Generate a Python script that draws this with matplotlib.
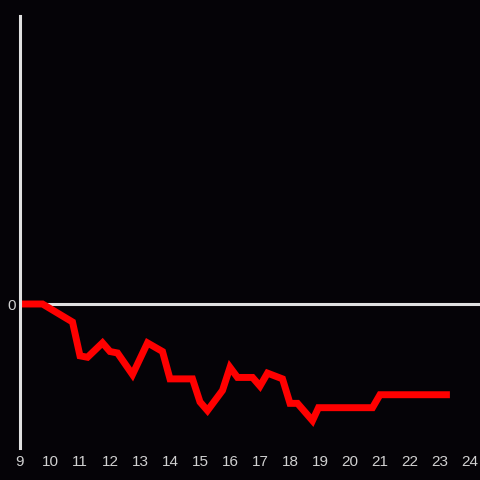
import matplotlib
matplotlib.use("Agg")
import matplotlib.pyplot as plt

# hours of the day and value (relative, zero = start level)
hours = [9.0, 9.75, 10.75, 11.0, 11.25, 11.75, 12.0, 12.25, 12.75, 13.25, 13.75,
         14.0, 14.75, 15.0, 15.25, 15.75, 16.0, 16.25, 16.75, 17.0, 17.25, 17.75,
         18.0, 18.25, 18.75, 18.95, 20.75, 21.0, 23.33]
values = [0.0, 0.0, -0.125, -0.36, -0.37, -0.27, -0.33, -0.34, -0.49, -0.27, -0.33,
          -0.52, -0.52, -0.68, -0.74, -0.60, -0.44, -0.51, -0.51, -0.57, -0.48, -0.52,
          -0.69, -0.69, -0.81, -0.72, -0.72, -0.63, -0.63]
xticks = list(range(9, 25))

bg = '#050307'
fig = plt.figure(figsize=(4.8, 4.8), dpi=100, facecolor=bg)
ax = fig.add_axes([20/480, 32/480, 460/480, 432/480], facecolor=bg)

ax.axhline(0, color='#e0e0e0', lw=2.2, zorder=1)
ax.plot(hours, values, color='#ff0000', lw=5.0, solid_joinstyle='miter',
        solid_capstyle='butt', zorder=2)

ax.set_xlim(9, 9 + 460/30)
ax.set_ylim(-1, 2)
ax.set_xticks(xticks)
ax.set_yticks([0])
ax.tick_params(length=0, colors='#d0d0d0', labelsize=11, pad=5)
ax.tick_params(axis='y', pad=3)
for lbl in ax.get_xticklabels() + ax.get_yticklabels():
    lbl.set_family('Liberation Sans')

for s in ['top', 'right', 'bottom']:
    ax.spines[s].set_visible(False)
ax.spines['left'].set_color('#e0e0e0')
ax.spines['left'].set_linewidth(2.2)

fig.savefig('out.png', dpi=100, facecolor=bg)
